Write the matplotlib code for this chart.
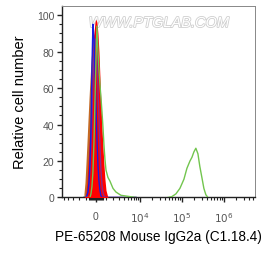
import numpy as np
import matplotlib
matplotlib.use("Agg")
import matplotlib.pyplot as plt
import matplotlib.patheffects as pe
from matplotlib.ticker import FixedLocator, FixedFormatter

plt.rcParams['font.family'] = ['Liberation Sans', 'DejaVu Sans']

# fluorescence bins near zero (linear units)
x_near = [-1280, -1160, -1050, -930, -820, -710, -610, -500, -400, -300, -200, -100, 0,
          100, 200, 300, 400, 500, 610, 710, 820, 930, 1050, 1280, 1530, 1950, 2410,
          3340, 4510, 6030, 8020]

red_fill = [0, 0.5, 2, 8, 18, 28, 38, 52, 66, 80, 90, 96, 97.8,
            96, 90, 80, 66, 52, 38, 28, 18, 10, 4, 0, 0, 0, 0,
            0, 0, 0, 0]
brown_fill = [2, 8, 18, 30, 42, 54, 64, 74, 82, 88, 90, 86, 76,
              62, 46, 30, 16, 7, 2, 0, 0, 0, 0, 0, 0, 0, 0,
              0, 0, 0, 0]
blue_line = [0, 0, 0, 1, 3, 8, 18, 38, 72, 95, 88, 70, 50,
             32, 18, 9, 4, 1, 0, 0, 0, 0, 0, 0, 0, 0, 0,
             0, 0, 0, 0]
purple_line = [0, 0, 0, 1, 3, 7, 15, 28, 45, 63, 78, 87, 86,
               75, 60, 44, 28, 15, 7, 3, 1, 0, 0, 0, 0, 0, 0,
               0, 0, 0, 0]
green_near = [0, 0, 0, 0, 0, 0, 0, 2, 6, 14, 30, 52, 75,
              94, 80, 70, 62, 55, 47, 39, 29, 21, 15, 11, 9, 5, 3,
              1.2, 0.8, 0.4, 0]

# green positive population
x_pos = [46900, 58400, 72800, 90500, 112800, 133000, 157000, 175000, 195000,
         217000, 243000, 270000, 302000, 337000, 376000, 420000]
green_pos = [0, 0.5, 2, 5, 10, 16, 20, 22, 25, 27, 24, 17, 11, 5, 1.5, 0]

xticks = [0, 1e4, 1e5, 1e6]
xtick_labels = ['0', '$10^4$', '$10^5$', '$10^6$']
x_minor = ([-5000, -4000, -3000, -2000, -1000]
           + list(range(-700, 701, 100))
           + [1000 * i for i in range(1, 10)]
           + [1e4 * i for i in range(2, 10)]
           + [1e5 * i for i in range(2, 10)]
           + [1e6 * i for i in range(2, 6)])
yticks = [0, 20, 40, 60, 80, 100]

fig = plt.figure(figsize=(2.62, 2.55), dpi=100)
ax = fig.add_axes([0.2366, 0.2216, 0.7364, 0.751])
ax.set_xscale('asinh', linear_width=1811)

ax.fill_between(x_near, brown_fill, color='#c46a24', lw=0, zorder=2)
ax.fill_between(x_near, red_fill, color='#ff0000', lw=0, zorder=3)
ax.plot(x_near, purple_line, color='#8a2a8a', lw=1.0, zorder=4)
ax.plot(x_near, blue_line, color='#1a1ae0', lw=1.0, zorder=5)
ax.plot(x_near, green_near, color='#72c54e', lw=1.0, zorder=6)
ax.plot(x_pos, green_pos, color='#72c54e', lw=1.0, zorder=6)

ax.text(0.503, 0.911, 'WWW.PTGLAB.COM', transform=ax.transAxes,
        ha='center', va='center', fontsize=10.5, style='italic',
        color='white', zorder=1,
        path_effects=[pe.withStroke(linewidth=1.2, foreground='#cfcfcf')])

ax.set_xlim(-5690, 5.54e6)
ax.set_ylim(0, 105)

ax.xaxis.set_major_locator(FixedLocator(xticks))
ax.xaxis.set_major_formatter(FixedFormatter(xtick_labels))
ax.xaxis.set_minor_locator(FixedLocator(x_minor))
ax.set_yticks(yticks)
ax.yaxis.set_minor_locator(FixedLocator(list(range(0, 101, 5))))

ax.tick_params(axis='both', which='major', direction='out', length=3.5, width=1.0,
               color='#222222', labelsize=7.5, labelcolor='#555555')
ax.tick_params(axis='both', which='minor', direction='out', length=2, width=0.8,
               color='#222222')
ax.tick_params(axis='x', which='major', pad=6)
ax.tick_params(axis='y', which='major', pad=2)

for side in ['left', 'bottom']:
    ax.spines[side].set_color('#222222')
    ax.spines[side].set_linewidth(1.0)
for side in ['top', 'right']:
    ax.spines[side].set_color('#888888')
    ax.spines[side].set_linewidth(0.7)

ax.set_ylabel('Relative cell number', fontsize=10.5, color='black', labelpad=7)
ax.set_xlabel('PE-65208 Mouse IgG2a (C1.18.4)', fontsize=9.8, color='black', labelpad=3)

fig.savefig('out.png', dpi=100)
